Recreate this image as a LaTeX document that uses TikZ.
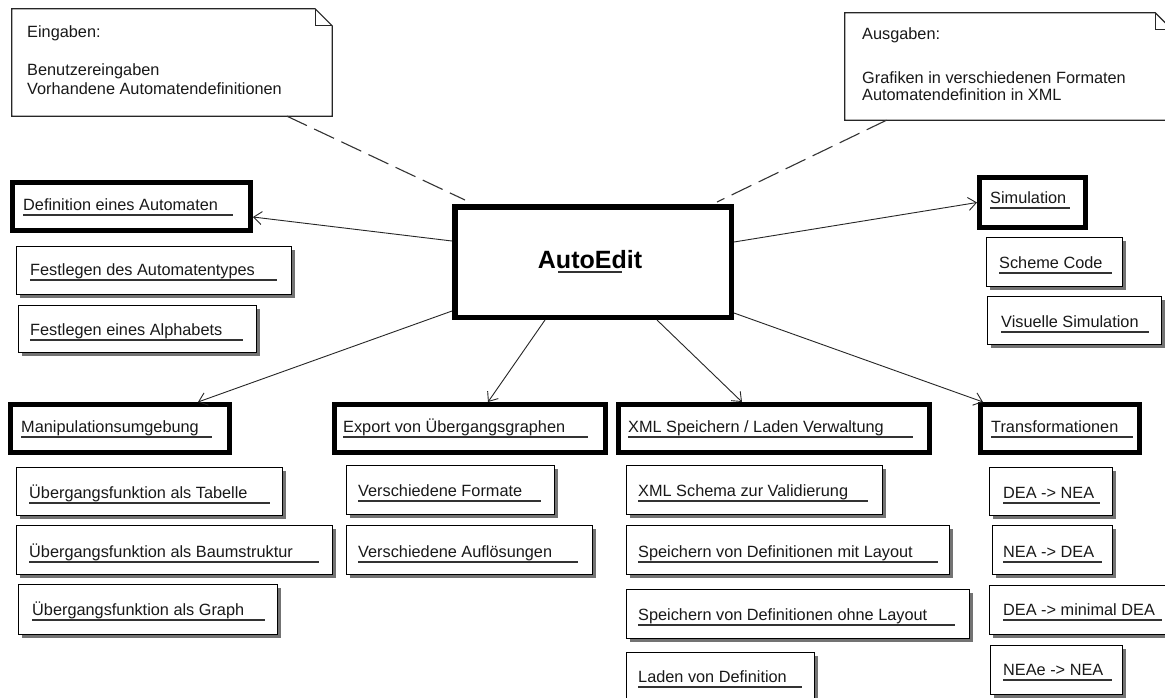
\documentclass[tikz,border=0pt]{standalone}
\usepackage{fontspec}
\setmainfont{Liberation Sans}
\usetikzlibrary{arrows.meta,shadows}

\tikzset{
  mainbox/.style={draw=black, line width=5pt, fill=white, inner sep=0pt},
  subbox/.style={draw=black, line width=1.2pt, fill=white, inner sep=0pt,
    drop shadow={shadow xshift=3pt, shadow yshift=-3pt, fill=black!55, opacity=1}},
  lbl/.style={anchor=base west, inner sep=0pt, font=\fontsize{16.3}{18}\selectfont, text=black!90},
  uline/.style={draw=black!80, line width=1.1pt},
  arr/.style={draw=black!85, line width=0.9pt, -{Straight Barb[length=8pt,width=13pt]}},
  dashline/.style={draw=black!80, line width=1.1pt, dash pattern=on 22pt off 8pt},
  noteline/.style={draw=black!85, line width=1.2pt},
  notebox/.style={draw=none, inner sep=0pt},
}

% name, left, top, right, bottom, text x, underline y, underline end, text
\newcommand\thickbx[9]{%
  \node[mainbox, minimum width={#4-#2-5}, minimum height={#5-#3-5}] (#1) at ({(#2+#4)/2},{(#3+#5)/2}) {};
  \node[lbl] (#1-t) at ({#6},{#7-5}) {#9};
  \draw[uline] (#6,#7) -- (#8,#7);
}
\newcommand\thinbx[9]{%
  \node[subbox, minimum width={#4-#2-1}, minimum height={#5-#3-1}] (#1) at ({(#2+#4)/2},{(#3+#5)/2}) {};
  \node[lbl] (#1-t) at ({#6},{#7-5}) {#9};
  \draw[uline] (#6,#7) -- (#8,#7);
}

\begin{document}
\begin{tikzpicture}[x=1pt, y=-1pt]
\useasboundingbox[fill=white] (0,0) rectangle (1165,697);

% ---------- notes ----------
\node[notebox, minimum width=320pt, minimum height=107pt] (n1) at (172,62.5) {};
\draw[noteline, fill=white] (n1.north west) -- ([xshift=-17pt]n1.north east) -- ([yshift=-17pt]n1.north east)
  -- (n1.south east) -- (n1.south west) -- cycle;
\draw[noteline] ([xshift=-17pt]n1.north east) -- ++(0,17) -- ([yshift=-17pt]n1.north east);
\node[lbl] (n1a) at (27,37) {Eingaben:};
\node[lbl] (n1b) at (27,75.5) {Benutzereingaben};
\node[lbl] (n1c) at (27,94) {Vorhandene Automatendefinitionen};

\node[notebox, minimum width=327pt, minimum height=107pt] (n2) at (1008.5,66.5) {};
\draw[noteline, fill=white] (n2.north west) -- ([xshift=-17pt]n2.north east) -- ([yshift=-17pt]n2.north east)
  -- (n2.south east) -- (n2.south west) -- cycle;
\draw[noteline] ([xshift=-17pt]n2.north east) -- ++(0,17) -- ([yshift=-17pt]n2.north east);
\node[lbl] (n2a) at (862,39) {Ausgaben:};
\node[lbl] (n2b) at (862,83) {Grafiken in verschiedenen Formaten};
\node[lbl] (n2c) at (862,100.5) {Automatendefinition in XML};

% ---------- central box ----------
\node[mainbox, line width=5.5pt, minimum width=276.5pt, minimum height=110.5pt] (ae) at (593,262) {};
\node[anchor=base, inner sep=0pt, font=\fontsize{25}{28}\selectfont\bfseries] (ae-t) at (590,268) {AutoEdit};
\draw[uline] (558,272) -- (622,272);

% ---------- category boxes ----------
\thickbx{def}{10}{180}{253}{233}{23}{215}{233}{Definition eines Automaten}
\thickbx{sim}{977}{175}{1088}{230}{990}{208}{1070}{Simulation}
\thickbx{man}{8}{402}{232}{455}{21}{437}{212}{Manipulationsumgebung}
\thickbx{exp}{332}{402}{608}{455}{343}{437}{588}{Export von Übergangsgraphen}
\thickbx{xml}{616}{402}{932}{455}{628}{437}{913}{XML Speichern / Laden Verwaltung}
\thickbx{tra}{978}{402}{1142}{455}{991}{437}{1133}{Transformationen}

% ---------- sub boxes ----------
\thinbx{fat}{16}{246}{292}{295}{30}{280}{277}{Festlegen des Automatentypes}
\thinbx{fal}{18}{305}{257}{353}{30}{340}{243}{Festlegen eines Alphabets}
\thinbx{sc}{986}{237}{1123}{287}{999}{273}{1112}{Scheme Code}
\thinbx{vs}{987}{296}{1162}{345}{1001}{332}{1149}{Visuelle Simulation}
\thinbx{ut}{16}{467}{283}{516}{29}{503}{270}{Übergangsfunktion als Tabelle}
\thinbx{ub}{16}{525}{333}{575}{29}{562}{319}{Übergangsfunktion als Baumstruktur}
\thinbx{ug}{18}{584}{278}{635}{32}{620}{265}{Übergangsfunktion als Graph}
\thinbx{vf}{346}{465}{555}{515}{358}{501}{541}{Verschiedene Formate}
\thinbx{va}{346}{525}{593}{575}{358}{562}{578}{Verschiedene Auflösungen}
\thinbx{xs}{626}{465}{883}{515}{638}{501}{868}{XML Schema zur Validierung}
\thinbx{sm}{626}{525}{950}{575}{638}{562}{938}{Speichern von Definitionen mit Layout}
\thinbx{so}{626}{589}{970}{639}{638}{625}{955}{Speichern von Definitionen ohne Layout}
\thinbx{ld}{626}{652}{815}{705}{638}{687}{802}{Laden von Definition}
\thinbx{dn}{989}{467}{1113}{516}{1003}{503}{1100}{DEA -> NEA}
\thinbx{nd}{992}{525}{1113}{575}{1003}{562}{1102}{NEA -> DEA}
\thinbx{dm}{989}{585}{1180}{635}{1003}{620}{1162}{DEA -> minimal DEA}
\thinbx{ne}{990}{645}{1123}{695}{1003}{680}{1112}{NEAe -> NEA}

% ---------- connectors ----------
\draw[dashline] ([xshift=115pt]n1.south) -- ([shift={(13pt,4pt)}]ae.north west);
\draw[dashline] ([xshift=-122pt]n2.south) -- ([shift={(-17pt,2pt)}]ae.north east);

\draw[arr] ([yshift=21pt]ae.west) -- ([yshift=-10.5pt]def.east);
\draw[arr] ([yshift=20pt]ae.east) -- (sim.west);
\draw[arr] ([yshift=-49pt]ae.west) -- ([xshift=78pt]man.north);
\draw[arr] ([xshift=-48pt]ae.south) -- ([xshift=18pt]exp.north);
\draw[arr] ([xshift=64pt]ae.south) -- ([xshift=-32pt]xml.north);
\draw[arr] ([yshift=-51pt]ae.east) -- ([xshift=-77pt]tra.north);
\end{tikzpicture}
\end{document}
